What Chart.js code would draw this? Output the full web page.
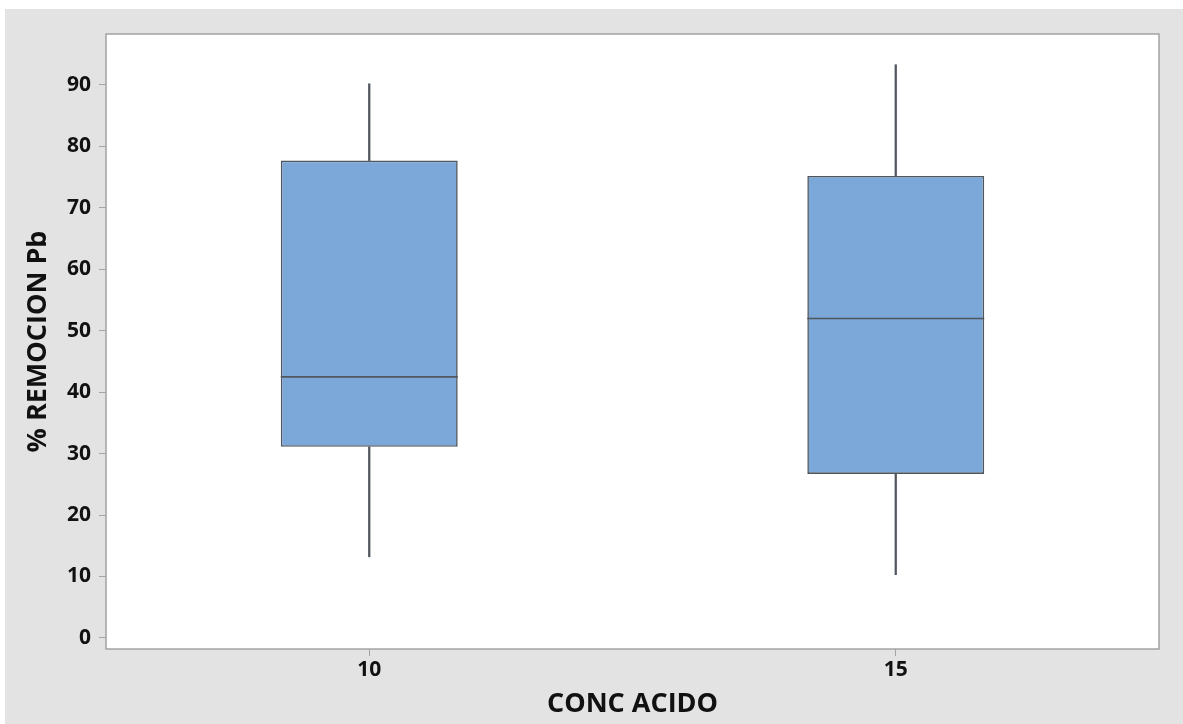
<!DOCTYPE html>
<html>
<head>
  <title>Boxplot % REMOCION Pb</title>
  <script src="https://cdn.jsdelivr.net/npm/chart.js"></script>
  <style>
    body { margin: 0; background: #ffffff; }
    #wrap { position: absolute; left: 5px; top: 9px; width: 1178px; height: 715px; }
    canvas { background: #e3e3e3; }
  </style>
</head>
<body>
  <div id="wrap">
    <canvas id="boxChart" width="1178" height="715"></canvas>
  </div>

  <script>
    // Groups on the x axis
    const categories = ['10', '15'];
    // Five-number summary per group
    const whiskerLow = [13.2, 10.3];
    const q1Values = [31.1, 26.7];
    const medianValues = [42.5, 52.0];
    const q3Values = [77.7, 75.2];
    const whiskerHigh = [90.2, 93.3];
    // Y axis tick labels
    const yTicks = [0, 10, 20, 30, 40, 50, 60, 70, 80, 90];

    const boxes = categories.map((c, i) => [q1Values[i], q3Values[i]]);
    const upper = categories.map((c, i) => [q3Values[i], whiskerHigh[i]]);
    const lower = categories.map((c, i) => [whiskerLow[i], q1Values[i]]);

    const lineColor = '#50565e';

    // White plot area, gray frame and median lines
    const plotFrame = {
      id: 'plotFrame',
      beforeDatasetsDraw(chart) {
        const { ctx, chartArea: a } = chart;
        ctx.save();
        ctx.fillStyle = '#ffffff';
        ctx.fillRect(a.left, a.top, a.right - a.left, a.bottom - a.top);
        ctx.restore();
      },
      afterDatasetsDraw(chart) {
        const { ctx, chartArea: a } = chart;
        const yScale = chart.scales.y;
        const meta = chart.getDatasetMeta(0);
        ctx.save();
        ctx.strokeStyle = lineColor;
        ctx.lineWidth = 1.6;
        meta.data.forEach((bar, i) => {
          const y = yScale.getPixelForValue(medianValues[i]);
          ctx.beginPath();
          ctx.moveTo(bar.x - bar.width / 2, y);
          ctx.lineTo(bar.x + bar.width / 2, y);
          ctx.stroke();
        });
        ctx.strokeStyle = '#a3a3a3';
        ctx.lineWidth = 1.5;
        ctx.strokeRect(a.left, a.top, a.right - a.left, a.bottom - a.top);
        ctx.restore();
      }
    };

    const ctx = document.getElementById('boxChart').getContext('2d');
    new Chart(ctx, {
      type: 'bar',
      data: {
        labels: categories,
        datasets: [
          {
            label: 'box',
            data: boxes,
            backgroundColor: '#7ba7d9',
            borderColor: lineColor,
            borderWidth: 1.6,
            borderSkipped: false,
            barPercentage: 0.336,
            categoryPercentage: 1,
            grouped: false
          },
          {
            label: 'upper whisker',
            data: upper,
            backgroundColor: lineColor,
            barThickness: 1.6,
            grouped: false
          },
          {
            label: 'lower whisker',
            data: lower,
            backgroundColor: lineColor,
            barThickness: 1.6,
            grouped: false
          }
        ]
      },
      options: {
        responsive: false,
        animation: false,
        layout: { padding: { left: 0, top: 25, right: 24, bottom: 0 } },
        plugins: {
          legend: { display: false },
          tooltip: { enabled: false }
        },
        scales: {
          x: {
            offset: true,
            afterFit(scale) { scale.height = 75; },
            grid: { drawOnChartArea: false, drawTicks: true, tickLength: 7, tickColor: '#a3a3a3', offset: false },
            border: { display: false },
            ticks: {
              color: '#111111',
              padding: 1,
              font: { family: 'Open Sans', size: 21, weight: 'bold' }
            },
            title: {
              display: true,
              text: 'CONC ACIDO',
              color: '#111111',
              padding: { top: 0, bottom: 3 },
              font: { family: 'Open Sans', size: 27, weight: 'bold' }
            }
          },
          y: {
            min: -1.8,
            max: 98.3,
            afterFit(scale) { scale.width = 101; },
            afterBuildTicks(scale) { scale.ticks = yTicks.map(v => ({ value: v })); },
            grid: { drawOnChartArea: false, drawTicks: true, tickLength: 7, tickColor: '#a3a3a3' },
            border: { display: false },
            ticks: {
              color: '#111111',
              padding: 8,
              font: { family: 'Open Sans', size: 21, weight: 'bold' }
            },
            title: {
              display: true,
              text: '% REMOCION Pb',
              color: '#111111',
              padding: { top: 17, bottom: 0 },
              font: { family: 'Open Sans', size: 27, weight: 'bold' }
            }
          }
        }
      },
      plugins: [plotFrame]
    });
  </script>
</body>
</html>
